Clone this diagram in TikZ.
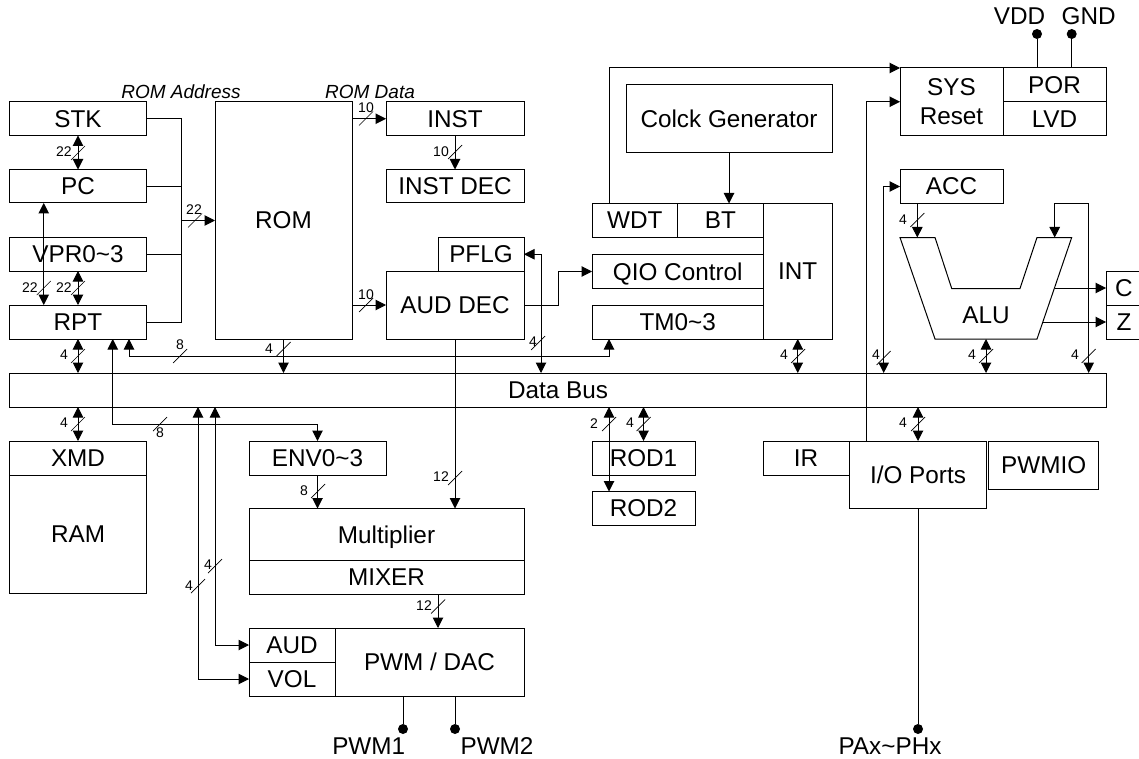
\documentclass[tikz,border=0pt]{standalone}
\usepackage{fontspec}
\setmainfont{Liberation Sans}
\usepackage{tikz}
\usetikzlibrary{arrows.meta, positioning, calc}

\begin{document}
\begin{tikzpicture}[x=1pt, y=-1pt, line width=1pt]
  \tikzstyle{blk}=[rectangle, draw, inner sep=0pt, outer sep=0pt, align=center,
    text depth=0pt, font=\fontsize{24.3}{29}\selectfont]
  \tikzstyle{romlab}=[inner sep=0pt, font=\fontsize{19}{22}\selectfont\itshape]
  \tikzstyle{pinlab}=[inner sep=0pt, font=\fontsize{24.3}{29}\selectfont]
  \tikzstyle{bitlab}=[inner sep=0pt, font=\fontsize{14}{16}\selectfont]
  \tikzstyle{pindot}=[circle, fill, inner sep=0pt, minimum size=10pt]
  \tikzstyle{arr}=[-{Triangle[length=10.5pt,width=10.5pt]}]
  \tikzstyle{both}=[{Triangle[length=10.5pt,width=10.5pt]}-{Triangle[length=10.5pt,width=10.5pt]}]
  \useasboundingbox (0,0) rectangle (1139,759);

  \node[blk, minimum width=137pt, minimum height=33.5pt] (stk) at (78,118.75) {STK};
  \node[blk, minimum width=137pt, minimum height=33.5pt] (pc) at (78,186.25) {PC};
  \node[blk, minimum width=137pt, minimum height=33.5pt] (vpr) at (78,254.25) {VPR0\string~3};
  \node[blk, minimum width=137pt, minimum height=34pt] (rpt) at (78,322) {RPT};
  \node[blk, minimum width=137pt, minimum height=237pt] (rom) at (283.5,220.5) {ROM};
  \node[blk, minimum width=138pt, minimum height=33.5pt] (inst) at (455,118.75) {INST};
  \node[blk, minimum width=138pt, minimum height=33.5pt] (instdec) at (455,186.25) {INST DEC};
  \node[blk, minimum width=86pt, minimum height=33.5pt] (pflg) at (481,254.25) {PFLG};
  \node[blk, minimum width=138pt, minimum height=68pt] (auddec) at (455,305) {AUD DEC};
  \node[blk, minimum width=206pt, minimum height=67.5pt] (colck) at (729,118.75) {Colck Generator};
  \node[blk, minimum width=85.5pt, minimum height=34pt] (wdt) at (634.75,220.5) {WDT};
  \node[blk, minimum width=86pt, minimum height=34pt] (bt) at (720.5,220.5) {BT};
  \node[blk, minimum width=171.5pt, minimum height=34pt] (qio) at (677.75,271.5) {QIO Control};
  \node[blk, minimum width=171.5pt, minimum height=34pt] (tm) at (677.75,322) {TM0\string~3};
  \node[blk, minimum width=68.5pt, minimum height=135.5pt] (int) at (797.75,271.25) {INT};
  \node[blk, minimum width=103pt, minimum height=67.5pt] (sys) at (951.5,101.75) {SYS\\Reset};
  \node[blk, minimum width=103pt, minimum height=34pt] (por) at (1054.5,85) {POR};
  \node[blk, minimum width=103pt, minimum height=33.5pt] (lvd) at (1054.5,118.75) {LVD};
  \node[blk, minimum width=103pt, minimum height=34pt] (acc) at (951.5,186.5) {ACC};
  \node[blk, minimum width=36pt, minimum height=34pt] (c) at (1124,288) {C};
  \node[blk, minimum width=36pt, minimum height=34pt] (z) at (1124,322) {Z};
  \node[blk, minimum width=1097pt, minimum height=34pt] (bus) at (558,390) {Data Bus};
  \node[blk, minimum width=137pt, minimum height=34pt] (xmd) at (78,458) {XMD};
  \node[blk, minimum width=137pt, minimum height=118pt] (ram) at (78,534) {RAM};
  \node[blk, minimum width=137pt, minimum height=34pt] (env) at (317.5,458) {ENV0\string~3};
  \node[blk, minimum width=275pt, minimum height=52pt] (mult) at (386.5,534.5) {Multiplier};
  \node[blk, minimum width=275pt, minimum height=33.5pt] (mixer) at (386.5,577.25) {MIXER};
  \node[blk, minimum width=86pt, minimum height=34pt] (aud) at (292,645) {AUD};
  \node[blk, minimum width=86pt, minimum height=34pt] (vol) at (292,679) {VOL};
  \node[blk, minimum width=189pt, minimum height=68pt] (pwm) at (429.5,662) {PWM / DAC};
  \node[blk, minimum width=103pt, minimum height=34pt] (rod1) at (643.5,458) {ROD1};
  \node[blk, minimum width=103pt, minimum height=33.5pt] (rod2) at (643.5,508.25) {ROD2};
  \node[blk, minimum width=86pt, minimum height=34pt] (ir) at (806,458) {IR};
  \node[blk, minimum width=137.4pt, minimum height=67.5pt] (iop) at (918,474.75) {I/O Ports};
  \node[blk, minimum width=110pt, minimum height=48pt] (pwmio) at (1043.7,465) {PWMIO};

  \draw (900,237.5) -- (935,237.5) -- (951.7,288.5) -- (1020,288.5) -- (1037,237.5)
    -- (1071.7,237.5) -- (1037,339) -- (935,339) -- cycle;
  \node[pinlab] (alu) at (986,315) {ALU};
  \coordinate (alua) at (917.3,237.5);
  \coordinate (alub) at (1054.7,237.5);
  \coordinate (aluo) at (986,339);
  \coordinate (aluc) at (1054.5,288);
  \coordinate (aluz) at (1043,322);

  \node[romlab] (romaddr) at (181,92) {ROM Address};
  \node[romlab] (romdata) at (370,92) {ROM Data};
  \node[pinlab] (vdd) at (1019.5,16) {VDD};
  \node[pinlab] (gnd) at (1088.7,16) {GND};
  \node[pinlab] (pwm1) at (368.7,746) {PWM1};
  \node[pinlab] (pwm2) at (497,746) {PWM2};
  \node[pinlab] (pax) at (890,746) {PAx\string~PHx};
  \node[pindot] (vddp) at (1037,34) {};
  \node[pindot] (gndp) at (1071.7,34) {};
  \node[pindot] (pwm1p) at (403,729) {};
  \node[pindot] (pwm2p) at (455,729) {};
  \node[pindot] (paxp) at (918,729) {};

  \coordinate (addr) at (181,220.5);
  \coordinate (envbend) at (112.75,424);
  \coordinate (tmbend) at (129,356);
  \coordinate (pflgbus) at (541,373);
  \coordinate (accbus) at (883.7,373);
  \coordinate (alubus) at (1088.7,373);
  \coordinate (audbus) at (215,407);
  \coordinate (volbus) at (198,407);

  \draw[both] (stk.south) -- (pc.north);
  \draw[both] ([xshift=-34.25pt]pc.south) -- ([xshift=-34.25pt]rpt.north);
  \draw[both] (vpr.south) -- (rpt.north);
  \draw (stk.east) -| (addr);
  \draw (rpt.east) -| (addr);
  \draw (pc.east) -- (pc.east -| addr);
  \draw (vpr.east) -- (vpr.east -| addr);
  \draw[arr] (addr) -- (rom.west);
  \draw[arr] (rom.east |- inst.west) -- (inst.west);
  \draw[arr] (rom.east |- auddec.west) -- (auddec.west);
  \draw[arr] (inst.south) -- (instdec.north);
  \draw[arr] (rom.south) -- (rom.south |- bus.north);
  \draw[both] (rpt.south) -- (rpt.south |- bus.north);
  \draw[both] ([xshift=34.75pt]rpt.south) -- (envbend) -| (env.north);
  \draw[both] ([xshift=51pt]rpt.south) -- (tmbend) -| ([xshift=-68.75pt]tm.south);
  \draw[arr] (auddec.south) -- (auddec.south |- mult.north);
  \draw[arr] (auddec.east) -- ++(34,0) |- (qio.west);
  \draw[both] (pflg.east) -| (pflgbus);
  \draw[both] (int.south) -- (int.south |- bus.north);
  \draw[arr] ([xshift=-25.75pt]wdt.north) |- (sys.north west);
  \draw[arr] ([xshift=-52pt]iop.north) |- (sys.west);
  \draw[arr] (colck.south) -- (colck.south |- bt.north);
  \draw[both] (accbus) |- (acc.west);
  \draw[arr] (alua |- acc.south) -- (alua);
  \draw[both] (alubus) |- (alub |- acc.south) -- (alub);
  \draw[both] (aluo) -- (aluo |- bus.north);
  \draw[arr] (aluc) -- (c.west);
  \draw[arr] (aluz) -- (z.west);
  \draw[both] (xmd.north) -- (xmd.north |- bus.south);
  \draw[both] (rod1.north) -- (rod1.north |- bus.south);
  \draw[both] ([xshift=-34.5pt]rod2.north) -- ([xshift=-34.5pt]rod2.north |- bus.south);
  \draw[both] (iop.north) -- (iop.north |- bus.south);
  \draw[both] (audbus) |- (aud.west);
  \draw[both] (volbus) |- (vol.west);
  \draw[arr] (env.south) -- (env.south |- mult.north);
  \draw[arr] ([xshift=8.5pt]pwm.north |- mixer.south) -- ([xshift=8.5pt]pwm.north);
  \draw (vddp) -- (vddp |- por.north);
  \draw (gndp) -- (gndp |- por.north);
  \draw (pwm1p) -- (pwm1p |- pwm.south);
  \draw (pwm2p) -- (pwm2p |- pwm.south);
  \draw (paxp) -- (iop.south);

  \foreach \tx/\ty/\lx/\ly/\bits [count=\i] in {78/153/64/152/22, 43.75/288/30/288/22,
      78/288/64/288/22, 195/220.5/194/210/22, 366/118.5/366/108/10, 366/305/366/295/10,
      455/152/441/152/10, 78/356/64/355/4, 180/356/180/345/8, 283.5/349/269/349/4,
      538/343/533/342/4, 798/356/784/355/4, 883.7/358/876/355/4, 986/356/972/355/4,
      1088.7/356/1075/355/4, 917.3/220/903/220/4, 78/424/64/423/4, 160/424/160/433/8,
      609/424/594/424/2, 643.5/424/630/423/4, 918/424/903/423/4, 318/491/304/491/8,
      455/478/441/477/12, 438/606.5/424/606/12, 215/566/208/565/4, 198/586/189/586/4} {
    \draw[line width=0.7pt] (\tx-7,\ty+7) -- (\tx+7,\ty-7);
    \node[bitlab] (bit\i) at (\lx,\ly) {\bits};
  }
\end{tikzpicture}
\end{document}
